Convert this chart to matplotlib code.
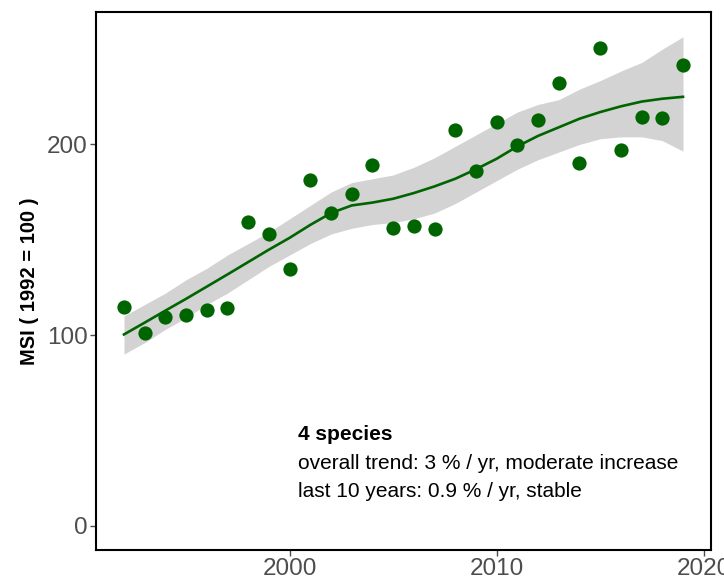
import matplotlib
matplotlib.use("Agg")
import matplotlib.pyplot as plt

plt.rcParams["font.family"] = ["Liberation Sans", "DejaVu Sans"]

COLOR_POINT = "#006400"
COLOR_RIBBON = "#d3d3d3"
COLOR_TICK = "#4d4d4d"

years = list(range(1992, 2020))
msi = [114.7, 101.2, 109.6, 110.5, 113.0, 114.4, 159.5, 153.0, 134.4, 181.1,
       164.0, 174.0, 189.1, 156.2, 157.2, 155.4, 207.7, 186.3, 211.7, 199.5,
       212.6, 232.3, 190.2, 250.7, 197.2, 214.4, 213.8, 241.6]
trend = [100.3, 106.5, 112.8, 119.0, 125.4, 131.8, 138.3, 144.8, 151.0, 157.8,
         164.0, 168.0, 169.5, 171.5, 174.5, 178.0, 182.0, 187.0, 192.5, 199.0,
         204.5, 209.0, 213.5, 217.0, 220.0, 222.5, 224.0, 225.0]
lower = [90, 96, 103, 109, 116, 122, 129, 136, 142, 148,
         153, 156, 158, 159, 161, 164, 169, 175, 181, 187,
         192, 196, 200, 203, 204, 204, 202, 196.5]
upper = [110, 116, 122, 129, 135, 142, 148, 154, 161, 168,
         175, 180, 182, 184, 188, 193, 199, 205, 211, 217,
         221, 223.5, 229, 233.5, 238.5, 243, 250, 256.5]

fig = plt.figure(figsize=(7.24, 5.83), dpi=100)
ax = fig.add_axes([0.1326, 0.0566, 0.982 - 0.1326, 0.9794 - 0.0566])

ax.fill_between(years, lower, upper, color=COLOR_RIBBON, linewidth=0, zorder=1)
ax.plot(years, trend, color=COLOR_POINT, linewidth=1.9, zorder=2)
ax.scatter(years, msi, s=105, color=COLOR_POINT, linewidths=0, zorder=3)

ax.set_xlim(1990.65, 2020.35)
ax.set_ylim(-12.8, 269.5)
ax.set_xticks([2000, 2010, 2020])
ax.set_yticks([0, 100, 200])
ax.tick_params(axis="both", colors=COLOR_TICK, labelsize=17.5, length=4, width=1, pad=2)
for spine in ax.spines.values():
    spine.set_color("black")
    spine.set_linewidth(1.5)

ax.set_ylabel("MSI ( 1992 = 100 )", fontsize=14.5, fontweight="bold", labelpad=6)

ax.text(2000.4, 47.9, "4 species", fontsize=15, fontweight="bold", va="center")
ax.text(2000.4, 32.6, "overall trend: 3 % / yr, moderate increase", fontsize=15, va="center")
ax.text(2000.4, 17.9, "last 10 years: 0.9 % / yr, stable", fontsize=15, va="center")

fig.savefig("out.png", dpi=100, facecolor="white")
